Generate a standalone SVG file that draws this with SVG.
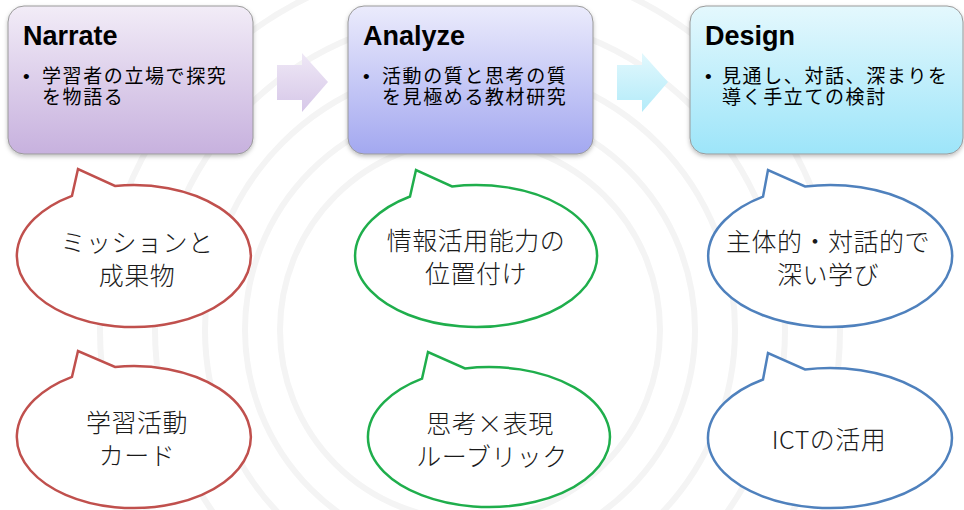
<svg xmlns="http://www.w3.org/2000/svg" width="964" height="510" viewBox="0 0 964 510">
<defs>
<linearGradient id="g1" x1="0" y1="0" x2="0" y2="1"><stop offset="0" stop-color="#f2ecf7"/><stop offset="1" stop-color="#c7b1de"/></linearGradient>
<linearGradient id="g2" x1="0" y1="0" x2="0" y2="1"><stop offset="0" stop-color="#ebebfc"/><stop offset="1" stop-color="#a3a8f0"/></linearGradient>
<linearGradient id="g3" x1="0" y1="0" x2="0" y2="1"><stop offset="0" stop-color="#e4f8fd"/><stop offset="1" stop-color="#9de5f9"/></linearGradient>
<linearGradient id="ga1" x1="0" y1="0" x2="0" y2="1"><stop offset="0" stop-color="#efe8f6"/><stop offset="1" stop-color="#d6c7e8"/></linearGradient>
<linearGradient id="ga2" x1="0" y1="0" x2="0" y2="1"><stop offset="0" stop-color="#e2f8fd"/><stop offset="1" stop-color="#b3ebf9"/></linearGradient>
<filter id="sh" x="-10%" y="-10%" width="120%" height="125%"><feDropShadow dx="0" dy="2" stdDeviation="2" flood-color="#000" flood-opacity="0.25"/></filter>
</defs>
<style>
.box{stroke:#9a9a9a;stroke-width:1;filter:url(#sh)}
.title{font-family:"Liberation Sans",Arial,sans-serif;font-weight:bold;font-size:27px;fill:#000}
.bul{font-family:"Liberation Sans","Noto Sans CJK JP",sans-serif;font-size:19px;fill:#000;letter-spacing:1.6px}
.bt{font-family:"Noto Sans CJK JP","Noto Sans",sans-serif;font-size:25px;fill:#1a1a1a;text-anchor:middle;font-weight:300;letter-spacing:0.5px}
.bub{fill:#fff;stroke-width:2.5;stroke-linejoin:miter}
.red{stroke:#c0504d}.green{stroke:#1fae4c}.blue{stroke:#4f81bd}
.swirl{fill:none;stroke:#f4f4f4;stroke-width:6}
</style>
<rect width="964" height="510" fill="#fff"/>
<g id="background">
<circle class="swirl" cx="470" cy="330" r="190"/>
<circle class="swirl" cx="470" cy="330" r="225"/>
<circle class="swirl" cx="470" cy="330" r="265"/>
<circle class="swirl" cx="470" cy="330" r="315"/>
<circle class="swirl" cx="470" cy="330" r="370"/>
</g>
<g id="connectors">
<polygon points="277,65 302,65 302,53 328,82 302,112 302,100 277,100" fill="url(#ga1)"/>
<polygon points="617,65 642,65 642,53 668,82 642,112 642,100 617,100" fill="url(#ga2)"/>
</g>
<g id="narrate">
<rect class="box" x="8" y="6" width="245" height="148" rx="16" fill="url(#g1)"/>
<text class="title" x="23" y="45">Narrate</text>
<text class="bul" x="23" y="83">•</text>
<text class="bul" x="42" y="83">学習者の立場で探究</text>
<text class="bul" x="42" y="104">を物語る</text>
</g>
<g id="analyze">
<rect class="box" x="348" y="6" width="245" height="148" rx="16" fill="url(#g2)"/>
<text class="title" x="363" y="45">Analyze</text>
<text class="bul" x="363" y="83">•</text>
<text class="bul" x="382" y="83">活動の質と思考の質</text>
<text class="bul" x="382" y="104">を見極める教材研究</text>
</g>
<g id="design">
<rect class="box" x="690" y="6" width="273" height="148" rx="16" fill="url(#g3)"/>
<text class="title" x="705" y="45">Design</text>
<text class="bul" x="705" y="83">•</text>
<text class="bul" x="722" y="83">見通し、対話、深まりを</text>
<text class="bul" x="722" y="104">導く手立ての検討</text>
</g>
<g id="bubble-mission">
<path class="bub red" d="M72,195.8 L78,169 L115,186 A117,71 0 1 1 72,195.8 Z"/>
<text class="bt" x="137" y="252">ミッションと</text>
<text class="bt" x="137" y="285">成果物</text>
</g>
<g id="bubble-card">
<path class="bub red" d="M72,376.8 L78,351 L115,367 A117,71 0 1 1 72,376.8 Z"/>
<text class="bt" x="137" y="432">学習活動</text>
<text class="bt" x="137" y="465">カード</text>
</g>
<g id="bubble-info">
<path class="bub green" d="M410,196.5 L416,170 L452,186.4 A121,71 0 1 1 410,196.5 Z"/>
<text class="bt" x="476" y="250">情報活用能力の</text>
<text class="bt" x="476" y="283">位置付け</text>
</g>
<g id="bubble-rubric">
<path class="bub green" d="M422,378.7 L428,352 L465,368.4 A121,70 0 1 1 422,378.7 Z"/>
<text class="bt" x="490" y="433">思考×表現</text>
<text class="bt" x="492" y="466">ルーブリック</text>
</g>
<g id="bubble-deep">
<path class="bub blue" d="M763,196.7 L768,170 L805,186.5 A122,71 0 1 1 763,196.7 Z"/>
<text class="bt" x="828" y="251">主体的・対話的で</text>
<text class="bt" x="828" y="284">深い学び</text>
</g>
<g id="bubble-ict">
<path class="bub blue" d="M763,379.5 L768,353 L805,369.5 A122,70 0 1 1 763,379.5 Z"/>
<text class="bt" x="829" y="449">ICTの活用</text>
</g>
</svg>
